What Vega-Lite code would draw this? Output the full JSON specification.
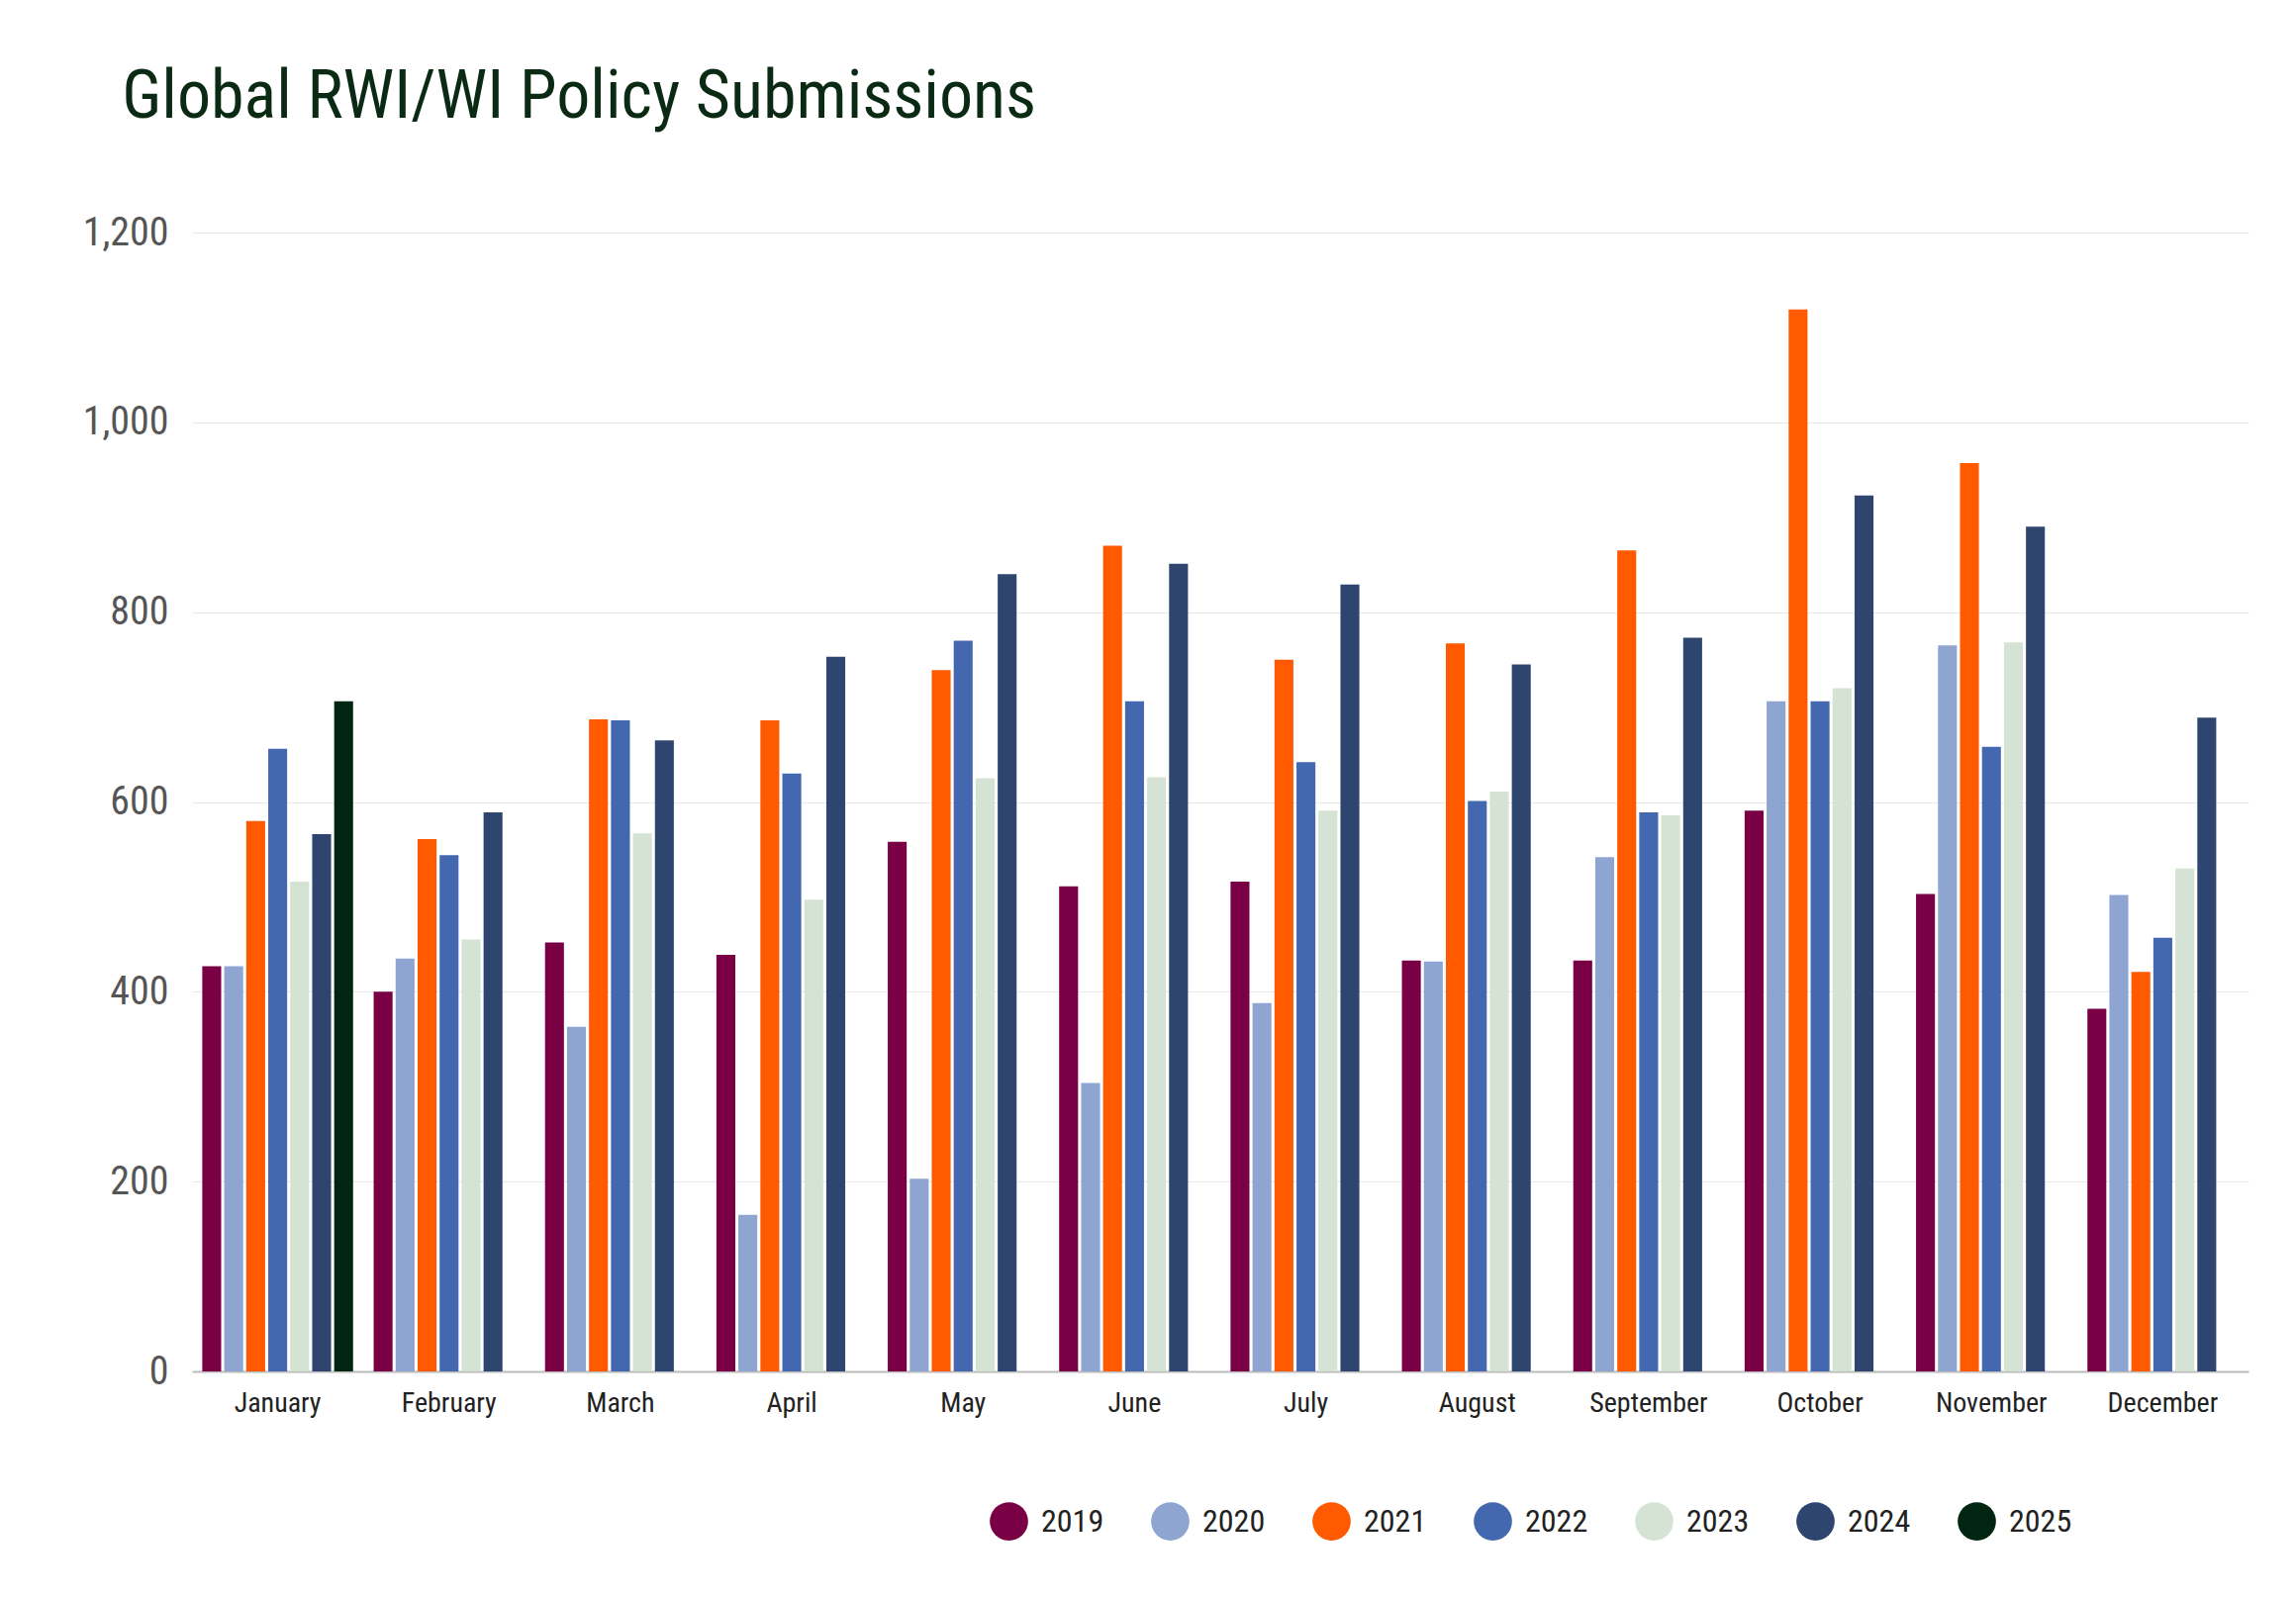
{
"$schema":"https://vega.github.io/schema/vega-lite/v6.json",
"width":2078,"height":1151,
"autosize":{"type":"none"},
"padding":{"left":194,"top":235,"right":48,"bottom":230},
"background":"white",
"title":{"text":"Global RWI/WI Policy Submissions","anchor":"start","dx":40,"offset":82,"fontSize":68,"font":"Roboto Condensed, Roboto","fontWeight":"normal","color":"#0b2a14"},
"data":{"values":[
{"m":"January","y":"2019","v":427},{"m":"January","y":"2020","v":427},{"m":"January","y":"2021","v":580},{"m":"January","y":"2022","v":656},{"m":"January","y":"2023","v":516},{"m":"January","y":"2024","v":566},{"m":"January","y":"2025","v":706},
{"m":"February","y":"2019","v":400},{"m":"February","y":"2020","v":435},{"m":"February","y":"2021","v":561},{"m":"February","y":"2022","v":544},{"m":"February","y":"2023","v":455},{"m":"February","y":"2024","v":589},
{"m":"March","y":"2019","v":452},{"m":"March","y":"2020","v":363},{"m":"March","y":"2021","v":687},{"m":"March","y":"2022","v":686},{"m":"March","y":"2023","v":567},{"m":"March","y":"2024","v":665},
{"m":"April","y":"2019","v":439},{"m":"April","y":"2020","v":165},{"m":"April","y":"2021","v":686},{"m":"April","y":"2022","v":630},{"m":"April","y":"2023","v":497},{"m":"April","y":"2024","v":753},
{"m":"May","y":"2019","v":558},{"m":"May","y":"2020","v":203},{"m":"May","y":"2021","v":739},{"m":"May","y":"2022","v":770},{"m":"May","y":"2023","v":625},{"m":"May","y":"2024","v":840},
{"m":"June","y":"2019","v":511},{"m":"June","y":"2020","v":304},{"m":"June","y":"2021","v":870},{"m":"June","y":"2022","v":706},{"m":"June","y":"2023","v":626},{"m":"June","y":"2024","v":851},
{"m":"July","y":"2019","v":516},{"m":"July","y":"2020","v":388},{"m":"July","y":"2021","v":750},{"m":"July","y":"2022","v":642},{"m":"July","y":"2023","v":591},{"m":"July","y":"2024","v":829},
{"m":"August","y":"2019","v":433},{"m":"August","y":"2020","v":432},{"m":"August","y":"2021","v":767},{"m":"August","y":"2022","v":601},{"m":"August","y":"2023","v":611},{"m":"August","y":"2024","v":745},
{"m":"September","y":"2019","v":433},{"m":"September","y":"2020","v":542},{"m":"September","y":"2021","v":865},{"m":"September","y":"2022","v":589},{"m":"September","y":"2023","v":586},{"m":"September","y":"2024","v":773},
{"m":"October","y":"2019","v":591},{"m":"October","y":"2020","v":706},{"m":"October","y":"2021","v":1119},{"m":"October","y":"2022","v":706},{"m":"October","y":"2023","v":720},{"m":"October","y":"2024","v":923},
{"m":"November","y":"2019","v":503},{"m":"November","y":"2020","v":765},{"m":"November","y":"2021","v":957},{"m":"November","y":"2022","v":658},{"m":"November","y":"2023","v":768},{"m":"November","y":"2024","v":890},
{"m":"December","y":"2019","v":382},{"m":"December","y":"2020","v":502},{"m":"December","y":"2021","v":421},{"m":"December","y":"2022","v":457},{"m":"December","y":"2023","v":530},{"m":"December","y":"2024","v":689}
]},
"mark":{"type":"bar"},
"encoding":{
"x":{"field":"m","type":"nominal","sort":null,"title":null,"scale":{"paddingInner":0.12,"paddingOuter":0.06},
 "axis":{"labelAngle":0,"labelFontSize":28,"labelFont":"Roboto Condensed, Roboto","labelColor":"#222","domainColor":"#bbb","domainWidth":2,"ticks":false,"labelPadding":18}},
"xOffset":{"field":"y","type":"nominal","scale":{"paddingInner":0.14}},
"y":{"field":"v","type":"quantitative","title":null,"scale":{"domain":[0,1200]},
 "axis":{"values":[0,200,400,600,800,1000,1200],"labelExpr":"format(datum.value, ',d')","labelFontSize":40,"labelFont":"Roboto Condensed, Roboto","labelColor":"#555","domain":false,"ticks":false,"gridColor":"#e8e8e8","labelPadding":24}},
"color":{"field":"y","type":"nominal","title":null,
 "scale":{"domain":["2019","2020","2021","2022","2023","2024","2025"],"range":["#7a0046","#8fa5d1","#ff5a00","#4468b0","#d5e3d5","#2e466f","#002611"]},
 "legend":{"orient":"none","legendX":805,"legendY":1282,"direction":"horizontal","symbolType":"circle","symbolSize":1500,"symbolOpacity":1,"labelFontSize":32,"labelFont":"Roboto Condensed, Roboto","labelColor":"#222","columnPadding":46,"labelOffset":12}}
},
"config":{"view":{"stroke":null}}
}
